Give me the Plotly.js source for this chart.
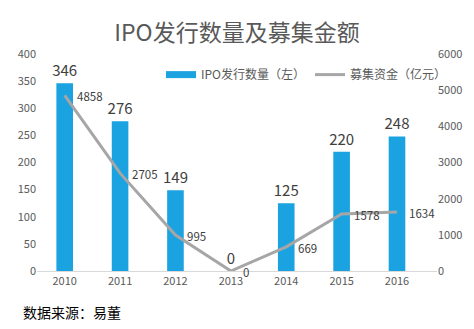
<!DOCTYPE html>
<html><head><meta charset="utf-8">
<script src="https://cdn.plot.ly/plotly-3.0.1.min.js"></script>
<style>html,body{margin:0;padding:0;background:#fff}#chart{width:474px;height:329px}</style>
</head><body><div id="chart"></div>
<script>
const years = ['2010','2011','2012','2013','2014','2015','2016'];
const ipoCount = [346, 276, 149, 0, 125, 220, 248];
const funds = [4858, 2705, 995, 0, 669, 1578, 1634];

const font = "'Microsoft YaHei','Noto Sans CJK SC','Noto Sans',sans-serif";
const barColor = '#1aa3e0';
const traces = [
  {type:'bar', x:years, y:ipoCount, name:'IPO发行数量（左）', marker:{color:barColor},
   text:ipoCount.map(String), textposition:'outside', constraintext:'none', cliponaxis:false,
   textfont:{size:15,color:'#404040',family:font}, hoverinfo:'none', showlegend:false},
  {type:'scatter', mode:'lines', x:[null], y:[null], name:'IPO发行数量（左）',
   line:{color:barColor, width:7}, hoverinfo:'none'},
  {type:'scatter', mode:'lines', x:years, y:funds, yaxis:'y2', name:'募集资金（亿元）',
   line:{color:'#a6a6a6', width:3}, cliponaxis:false, hoverinfo:'none'}
];
const lineLabels = funds.map((v, i) => ({
  text:String(v), x:i, y:v, xref:'x', yref:'y2', xanchor:'left', yanchor:'middle',
  xshift:10, yshift:-1, showarrow:false, font:{size:11.5,color:'#404040',family:font}
}));
const layout = {
  width:474, height:329, margin:{l:37,r:37,t:54,b:58},
  paper_bgcolor:'#fff', plot_bgcolor:'#fff',
  font:{family:font, color:'#595959', size:11},
  title:{text:'IPO发行数量及募集金额', x:0.5, xanchor:'center', y:0.9, yanchor:'middle', font:{size:23,color:'#595959',family:font}},
  bargap:0.7, showlegend:true,
  legend:{orientation:'h', x:0.31, xanchor:'left', y:0.905, yanchor:'middle', font:{size:12,color:'#595959'}, bgcolor:'rgba(0,0,0,0)', itemwidth:30, tracegroupgap:0},
  xaxis:{type:'category', categoryorder:'array', categoryarray:years, showgrid:false, showline:true, linecolor:'#d9d9d9', linewidth:1, ticks:'', tickfont:{size:11,color:'#595959'}, zeroline:false},
  yaxis:{range:[0,400], dtick:50, showgrid:false, zeroline:false, showline:false, ticks:'', tickfont:{size:11,color:'#595959'}},
  yaxis2:{range:[0,6000], dtick:1000, overlaying:'y', side:'right', showgrid:false, zeroline:false, showline:false, ticks:'', tickfont:{size:11,color:'#595959'}},
  annotations:lineLabels.concat([{text:'数据来源：易董', xref:'paper', yref:'paper', x:-0.04, xanchor:'left', y:-0.19, yanchor:'middle', showarrow:false, font:{size:14,color:'#000',family:font}}])
};
Plotly.newPlot('chart', traces, layout, {staticPlot:true});
</script></body></html>
